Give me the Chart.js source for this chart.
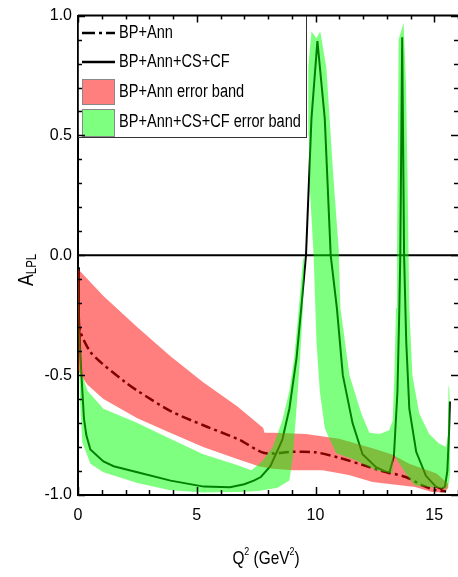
<!DOCTYPE html>
<html><head><meta charset="utf-8">
<script src="https://cdn.jsdelivr.net/npm/chart.js@4.4.1/dist/chart.umd.min.js"></script>
<style>html,body{margin:0;padding:0;background:#fff;}#wrap{width:458px;height:577px;}</style>
</head><body><div id="wrap"><canvas id="c" width="458" height="577"></canvas></div>
<script>
const FONT = "'Liberation Sans',Arial,sans-serif";
const SQUEEZE = 0.81;

// ---- text ----
const legendLabels = ['BP+Ann', 'BP+Ann+CS+CF', 'BP+Ann error band', 'BP+Ann+CS+CF error band'];
const xTickValues = [0, 5, 10, 15];
const yTickValues = [-1, -0.5, 0, 0.5, 1];

// ---- BP+Ann (dash-dot) ----
const dashQ2 = [0, 0.1, 0.5, 1.0, 2.0, 2.5, 3.9, 5.3, 6.8, 7.85, 9.0, 10.0, 11.0, 12.0, 12.7, 13.8, 14.5, 15.07, 15.5];
const dashA  = [-0.27, -0.32, -0.40, -0.45, -0.53, -0.565, -0.65, -0.71, -0.77, -0.825, -0.82, -0.822, -0.845, -0.875, -0.897, -0.925, -0.96, -0.98, -0.985];

// ---- BP+Ann+CS+CF (solid) ----
const solidQ2 = [0, 0.04, 0.1, 0.18, 0.25, 0.35, 0.52, 1.07, 1.5, 2.5, 3.9, 5.3, 6.4, 7.0, 7.4, 7.7, 8.1, 8.6, 8.9, 9.2, 9.4, 9.6, 9.83, 10.08, 10.39, 10.64, 10.9, 11.15, 11.56, 11.98, 12.55, 13.1, 13.3, 13.45, 13.53, 13.57, 13.65, 13.73, 13.82, 13.95, 14.24, 14.65, 15.07, 15.3, 15.45, 15.55, 15.62, 15.66];
const solidA  = [-0.05, -0.25, -0.42, -0.56, -0.68, -0.75, -0.81, -0.86, -0.88, -0.905, -0.94, -0.965, -0.968, -0.955, -0.94, -0.925, -0.88, -0.77, -0.64, -0.43, -0.22, 0.0, 0.57, 0.894, 0.57, 0.0, -0.22, -0.50, -0.70, -0.83, -0.884, -0.91, -0.84, -0.57, -0.22, 0.0, 0.91, 0.0, -0.36, -0.64, -0.82, -0.92, -0.965, -0.975, -0.965, -0.90, -0.75, -0.61];

// ---- BP+Ann error band ----
const redUpperQ2 = [0, 1.07, 2.5, 3.88, 5.27, 6.7, 7.8, 7.85, 8.2, 9.6, 11.0, 12.4, 13.2, 13.95, 15.1, 15.6];
const redUpperA  = [-0.057, -0.17, -0.30, -0.42, -0.53, -0.63, -0.72, -0.74, -0.74, -0.745, -0.765, -0.805, -0.83, -0.87, -0.91, -0.955];
const redLowerQ2 = [0, 0.18, 0.4, 1.07, 2.5, 3.88, 5.27, 6.7, 7.3, 7.6, 8.2, 9.05, 10.3, 11.4, 12.4, 13.2, 14.2, 14.9, 15.4, 15.6];
const redLowerA  = [-0.48, -0.51, -0.54, -0.60, -0.68, -0.74, -0.80, -0.85, -0.87, -0.88, -0.89, -0.897, -0.897, -0.917, -0.946, -0.955, -0.967, -0.988, -0.99, -0.97];

// ---- BP+Ann+CS+CF error band (two pieces) ----
const greenAUpperQ2 = [0, 0.06, 0.18, 0.4, 1.07, 2.5, 3.88, 5.27, 6.7, 7.3, 7.75, 8.2, 8.6, 8.9, 9.1, 9.3, 9.47, 9.55];
const greenAUpperA  = [-0.03, -0.3, -0.50, -0.565, -0.64, -0.70, -0.765, -0.83, -0.875, -0.897, -0.86, -0.80, -0.69, -0.566, -0.43, -0.22, -0.02, 0.0];
const greenALowerQ2 = [0, 0.08, 0.18, 0.52, 1.07, 2.5, 3.88, 5.27, 6.8, 7.6, 8.4, 8.9, 9.05, 9.2, 9.35, 9.47, 9.55];
const greenALowerA  = [-0.08, -0.6, -0.78, -0.87, -0.905, -0.95, -0.98, -0.99, -0.988, -0.983, -0.97, -0.94, -0.84, -0.64, -0.43, -0.22, 0.0];
const greenBUpperQ2 = [9.69, 9.83, 10.04, 10.2, 10.46, 10.73, 10.98, 11.05, 11.43, 11.93, 12.27, 12.7, 13.1, 13.25, 13.32, 13.39, 13.43, 13.47, 13.5, 13.71, 13.81, 13.88, 13.92, 13.95, 14.08, 14.37, 14.79, 15.2, 15.5, 15.57, 15.6, 15.64, 15.68];
const greenBUpperA  = [0.78, 0.935, 0.905, 0.935, 0.78, 0.36, 0.02, -0.22, -0.50, -0.66, -0.74, -0.745, -0.73, -0.69, -0.50, -0.22, 0.0, 0.5, 0.9, 0.97, 0.71, 0.29, 0.0, -0.22, -0.50, -0.66, -0.745, -0.785, -0.80, -0.75, -0.54, -0.56, -0.9];
const greenBLowerQ2 = [9.69, 9.72, 9.75, 9.92, 10.04, 10.18, 10.39, 10.6, 10.88, 11.7, 12.55, 13.25, 13.27, 13.6, 14.08, 14.23, 15.1, 15.5, 15.62, 15.68];
const greenBLowerA  = [0.78, 0.5, 0.3, 0.0, -0.36, -0.566, -0.72, -0.77, -0.826, -0.855, -0.897, -0.91, -0.83, -0.88, -0.95, -0.96, -0.97, -0.975, -0.95, -0.9];

const zeroQ2 = [0, 16];
const zeroA = [0, 0];

const RED = 'rgba(255,0,0,0.5)';
const GREEN = 'rgba(0,255,0,0.5)';

function pts(xs, ys) { return xs.map((x, i) => ({x: x, y: ys[i]})); }
function edge(label, xs, ys, fill, color, order) {
  return {label, data: pts(xs, ys), fill: fill, backgroundColor: color, borderColor: 'rgba(0,0,0,0)',
          borderWidth: 0, pointRadius: 0, tension: 0, order};
}

const datasets = [
  edge(legendLabels[3], greenAUpperQ2, greenAUpperA, {target: 1}, GREEN, 0),
  edge('gAl', greenALowerQ2, greenALowerA, false, GREEN, 0),
  edge('gBu', greenBUpperQ2, greenBUpperA, {target: 3}, GREEN, 0),
  edge('gBl', greenBLowerQ2, greenBLowerA, false, GREEN, 0),
  edge(legendLabels[2], redUpperQ2, redUpperA, {target: 5}, RED, 1),
  edge('rl', redLowerQ2, redLowerA, false, RED, 1),
  {label: legendLabels[1], data: pts(solidQ2, solidA), borderColor: '#000', borderWidth: 2, pointRadius: 0, fill: false, tension: 0, order: 2},
  {label: legendLabels[0], data: pts(dashQ2, dashA), borderColor: '#000', borderWidth: 2.5, borderDash: [10, 4, 3, 4], pointRadius: 0, fill: false, tension: 0.3, order: 2},
  {label: 'zero', data: pts(zeroQ2, zeroA), borderColor: '#000', borderWidth: 2, pointRadius: 0, fill: false, order: 3}
];

// draws text squeezed horizontally (the reference uses a condensed face)
function squeezedText(ctx, parts, x, y, align) {
  let w = 0;
  parts.forEach(p => { ctx.font = p.size + 'px ' + FONT; p.w = ctx.measureText(p.t).width; w += p.w; });
  ctx.save();
  ctx.translate(x, y);
  ctx.scale(SQUEEZE, 1);
  let cx = align === 'center' ? -w / 2 : 0;
  parts.forEach(p => { ctx.font = p.size + 'px ' + FONT; ctx.fillText(p.t, cx, (p.dy || 0)); cx += p.w; });
  ctx.restore();
}

const decor = {
  id: 'decor',
  afterDatasetsDraw(chart) {
    const ctx = chart.ctx;
    const a = chart.chartArea;
    const bx = a.left, by = 15, bw = 228, bh = 122;
    ctx.save();
    ctx.fillStyle = '#fff';
    ctx.fillRect(bx, by, bw, bh);
    ctx.strokeStyle = '#333';
    ctx.lineWidth = 1;
    ctx.strokeRect(bx + 0.5, by + 0.5, bw, bh);
    ctx.strokeStyle = '#000';
    ctx.lineWidth = 2.5;
    ctx.setLineDash([13, 4, 3, 4]);
    ctx.beginPath(); ctx.moveTo(82, 33); ctx.lineTo(115, 33); ctx.stroke();
    ctx.setLineDash([]);
    ctx.beginPath(); ctx.moveTo(82, 62); ctx.lineTo(115, 62); ctx.stroke();
    ctx.lineWidth = 1;
    ctx.strokeStyle = '#888';
    ctx.fillStyle = RED; ctx.fillRect(82, 79, 32, 25); ctx.strokeRect(82.5, 79.5, 32, 25);
    ctx.fillStyle = GREEN; ctx.fillRect(82, 109, 32, 27); ctx.strokeRect(82.5, 109.5, 32, 27);
    ctx.fillStyle = '#000';
    ctx.textBaseline = 'middle';
    ctx.textAlign = 'left';
    const ys = [33, 62, 92, 122];
    legendLabels.forEach((t, i) => squeezedText(ctx, [{t: t, size: 18}], 119, ys[i], 'left'));
    ctx.restore();
  },
  afterDraw(chart) {
    const ctx = chart.ctx;
    const a = chart.chartArea;
    const xs = chart.scales.x, ys = chart.scales.y;
    ctx.save();
    ctx.strokeStyle = '#000';
    ctx.lineWidth = 2;
    ctx.beginPath(); ctx.moveTo(a.left, a.top); ctx.lineTo(a.right, a.top); ctx.stroke();
    ctx.lineWidth = 1.5;
    ctx.beginPath();
    for (let q = 0; q <= 16; q++) {
      const px = Math.round(xs.getPixelForValue(q)) + 0.5;
      const len = q % 5 === 0 ? 8 : 5;
      ctx.moveTo(px, a.bottom); ctx.lineTo(px, a.bottom - len);
      ctx.moveTo(px, a.top); ctx.lineTo(px, a.top + len - 1);
    }
    for (let k = -10; k <= 10; k++) {
      const py = Math.round(ys.getPixelForValue(k / 10)) + 0.5;
      const len = k % 5 === 0 ? 7 : 4;
      ctx.moveTo(a.left, py); ctx.lineTo(a.left + len, py);
      ctx.moveTo(a.right, py); ctx.lineTo(a.right - len, py);
    }
    ctx.stroke();
    ctx.fillStyle = '#000';
    ctx.textBaseline = 'alphabetic';
    ctx.textAlign = 'left';
    squeezedText(ctx, [{t: 'Q', size: 19}, {t: '2', size: 11, dy: -9}, {t: ' (GeV', size: 19}, {t: '2', size: 11, dy: -9}, {t: ')', size: 19}], 266, 564, 'center');
    ctx.translate(33, 270);
    ctx.rotate(-Math.PI / 2);
    squeezedText(ctx, [{t: 'A', size: 22}, {t: 'LPL', size: 14, dy: 3}], 0, 0, 'center');
    ctx.restore();
  }
};

new Chart(document.getElementById('c'), {
  type: 'line',
  data: {datasets},
  options: {
    responsive: false,
    animation: false,
    devicePixelRatio: 1,
    layout: {padding: {top: 11, right: 0, left: 0, bottom: 0}},
    plugins: {legend: {display: false}, tooltip: {enabled: false}},
    scales: {
      x: {
        type: 'linear', min: 0, max: 16,
        afterBuildTicks: s => { s.ticks = xTickValues.map(v => ({value: v})); },
        afterFit: s => { s.height = 82; },
        ticks: {color: '#000', font: {family: FONT, size: 16}, padding: 11, maxRotation: 0, autoSkip: false, callback: v => String(v)},
        grid: {drawOnChartArea: false, drawTicks: false, color: 'rgba(0,0,0,0)'},
        border: {display: true, color: '#000', width: 2}
      },
      y: {
        type: 'linear', min: -1, max: 1,
        afterBuildTicks: s => { s.ticks = yTickValues.map(v => ({value: v})); },
        afterFit: s => { s.width = 78; },
        ticks: {color: '#000', font: {family: FONT, size: 16}, padding: 6, autoSkip: false, callback: v => v.toFixed(1)},
        grid: {drawOnChartArea: false, drawTicks: false, color: 'rgba(0,0,0,0)'},
        border: {display: true, color: '#000', width: 2}
      }
    }
  },
  plugins: [decor]
});
</script></body></html>
